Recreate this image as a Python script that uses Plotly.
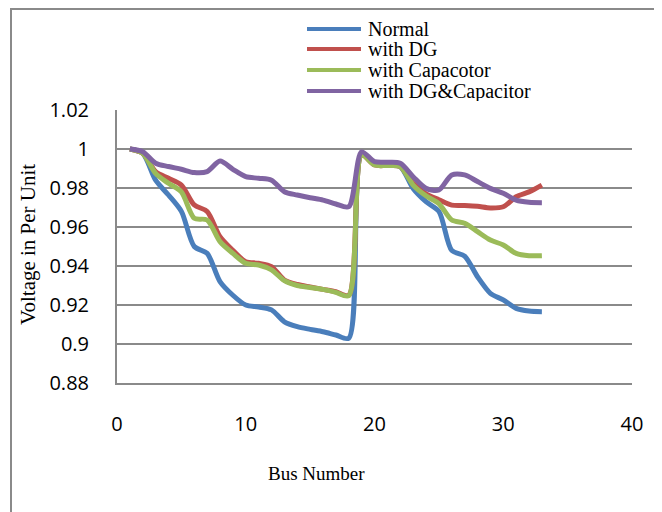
import plotly.graph_objects as go

# ---- data ----
bus = list(range(1, 34))
normal = [1.000, 0.9978, 0.984, 0.9764, 0.968, 0.950, 0.9465, 0.932, 0.925, 0.920, 0.919, 0.9175,
          0.9114, 0.9089, 0.9075, 0.9063, 0.9046, 0.903, 0.997, 0.9927, 0.9918, 0.991, 0.9798,
          0.973, 0.968, 0.948, 0.9451, 0.9345, 0.926, 0.9226, 0.9183, 0.9169, 0.9166]
with_dg = [1.000, 0.9978, 0.9884, 0.985, 0.9815, 0.9713, 0.968, 0.955, 0.948, 0.9422, 0.9414, 0.9397,
           0.9328, 0.9305, 0.9292, 0.928, 0.9268, 0.925, 0.997, 0.9918, 0.9915, 0.991, 0.9824,
           0.977, 0.974, 0.9712, 0.971, 0.9706, 0.9698, 0.9704, 0.9755, 0.978, 0.9815]
with_cap = [1.000, 0.9978, 0.9875, 0.9824, 0.978, 0.9645, 0.9636, 0.9525, 0.9465, 0.9414, 0.9405, 0.938,
            0.9325, 0.930, 0.929, 0.928, 0.9265, 0.9248, 0.997, 0.9918, 0.9915, 0.991, 0.9815,
            0.976, 0.972, 0.9636, 0.9619, 0.9576, 0.9533, 0.9508, 0.9465, 0.9453, 0.9453]
with_dg_cap = [1.000, 0.9986, 0.9927, 0.991, 0.9896, 0.9879, 0.9884, 0.9938, 0.9896, 0.9858, 0.985, 0.984,
               0.9781, 0.9764, 0.975, 0.9738, 0.9718, 0.9704, 0.9985, 0.9935, 0.9932, 0.9927, 0.9858,
               0.9798, 0.979, 0.9867, 0.9867, 0.9833, 0.9798, 0.9773, 0.9738, 0.9727, 0.9725]

series_names = ["Normal", "with DG", "with Capacotor", "with DG&Capacitor"]
series_values = [normal, with_dg, with_cap, with_dg_cap]
series_colors = ["#4A7EBB", "#C0504D", "#9BBB59", "#8064A2"]

x_ticks = [0, 10, 20, 30, 40]
x_tick_labels = ["0", "10", "20", "30", "40"]
y_ticks = [0.88, 0.90, 0.92, 0.94, 0.96, 0.98, 1.00, 1.02]
y_tick_labels = ["0.88", "0.9", "0.92", "0.94", "0.96", "0.98", "1", "1.02"]

x_title = "Bus Number"
y_title = "Voltage in Per Unit"

# ---- layout geometry (pixels) ----
OFF = 8                      # page body margin
W, H = 662, 512
L, T = 117 - OFF, 110 - OFF
PW, PH = 515, 273
R, B = W - L - PW, H - T - PH


def px(sx):
    """screen x -> paper x"""
    return (sx - OFF - L) / PW


def py(sy):
    """screen y -> paper y"""
    return (T + PH - (sy - OFF)) / PH


fig = go.Figure()
for name, vals, col in zip(series_names, series_values, series_colors):
    fig.add_trace(go.Scatter(x=bus, y=vals, name=name, mode="lines",
                             line=dict(color=col, width=5, shape="spline", smoothing=0.8),
                             showlegend=False))

grid = "#8a8a8a"
tickfont = dict(family="Open Sans", size=20, color="black")
fig.update_layout(
    width=W, height=H,
    margin=dict(l=L, r=R, t=T, b=B, pad=0),
    paper_bgcolor="white", plot_bgcolor="white",
    font=dict(family="Open Sans", size=20, color="black"),
    xaxis=dict(range=[0, 40], tickvals=x_ticks, ticktext=x_tick_labels,
               showgrid=False, zeroline=False, showline=True, linecolor=grid, linewidth=2,
               ticks="outside", ticklen=22, tickcolor="rgba(0,0,0,0)", automargin=False,
               tickfont=tickfont),
    yaxis=dict(range=[0.88, 1.02], tickvals=y_ticks, ticktext=y_tick_labels,
               showgrid=True, gridcolor=grid, gridwidth=2, zeroline=False,
               showline=True, linecolor=grid, linewidth=2,
               ticks="outside", ticklen=22, tickcolor="rgba(0,0,0,0)", automargin=False,
               tickfont=tickfont),
)

# outer chart border
fig.add_shape(type="rect", xref="paper", yref="paper",
              x0=px(11), x1=px(659), y0=py(540), y1=py(OFF + 1),
              line=dict(color=grid, width=2), fillcolor="rgba(0,0,0,0)", layer="below")

# axis titles
fig.add_annotation(text=x_title, xref="paper", yref="paper", x=px(316.5), y=py(473),
                   showarrow=False, xanchor="center", yanchor="middle",
                   font=dict(family="Liberation Serif", size=19, color="black"))
fig.add_annotation(text=y_title, xref="paper", yref="paper", x=px(28), y=py(245),
                   showarrow=False, xanchor="center", yanchor="middle", textangle=-90,
                   font=dict(family="Liberation Serif", size=21, color="black"))

# legend (drawn to match the original's tight spacing)
leg_rows = [29, 49, 70, 91]
for name, col, yy in zip(series_names, series_colors, leg_rows):
    fig.add_shape(type="line", xref="paper", yref="paper",
                  x0=px(307), x1=px(361), y0=py(yy), y1=py(yy),
                  line=dict(color=col, width=4))
    fig.add_annotation(text=name, xref="paper", yref="paper", x=px(366), y=py(yy),
                       showarrow=False, xanchor="left", yanchor="middle", height=20,
                       font=dict(family="Liberation Serif", size=20, color="black"))

fig.write_html("out.html")
